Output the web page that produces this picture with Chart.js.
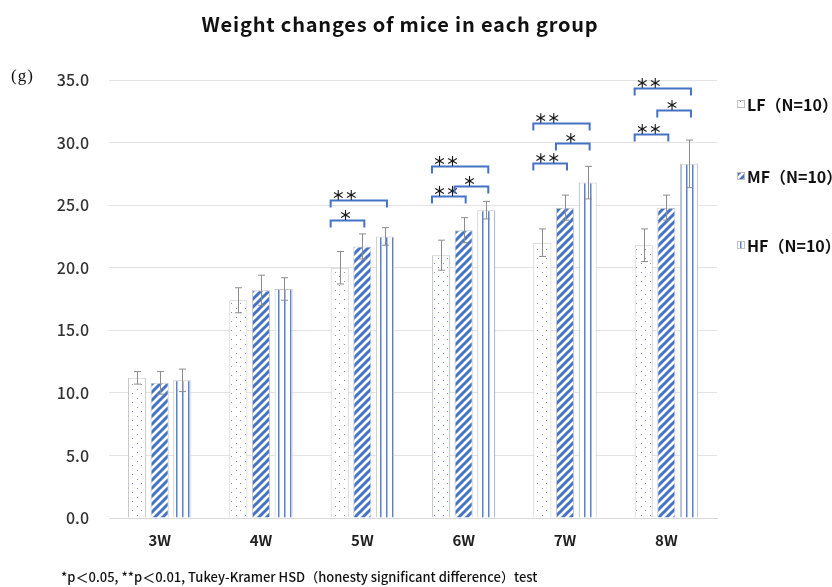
<!DOCTYPE html>
<html>
<head>
<meta charset="utf-8">
<script src="https://cdn.jsdelivr.net/npm/chart.js@4.4.1/dist/chart.umd.min.js"></script>
<style>
  body { margin: 0; background: #fff; }
  #wrap { position: relative; width: 832px; height: 587px; font-family: 'Noto Sans CJK JP', 'Noto Sans', sans-serif; }
  #title { position: absolute; left: 0; top: 12px; width: 800px; text-align: center; font-size: 20px; line-height: 24px; letter-spacing: 0.8px; font-weight: bold; color: #111; }
  #unit { position: absolute; left: 11px; top: 66px; font-family: 'Liberation Serif', 'DejaVu Serif', serif; font-size: 17px; line-height: 20px; letter-spacing: 1px; color: #111; }
  #note { position: absolute; left: 61px; top: 569px; font-size: 13px; line-height: 16px; font-weight: 500; color: #111; }
</style>
</head>
<body>
<div id="wrap">
  <canvas id="chart"></canvas>
  <div id="title">Weight changes of mice in each group</div>
  <div id="unit">(g)</div>
  <div id="note">*p＜0.05, **p＜0.01, Tukey-Kramer HSD（honesty significant difference）test</div>
</div>
<script>
// data
const categories = ['3W', '4W', '5W', '6W', '7W', '8W'];
const seriesNames = ['LF（N=10）', 'MF（N=10）', 'HF（N=10）'];
const lfMean = [11.2, 17.4, 20.0, 21.0, 22.0, 21.8];
const mfMean = [10.8, 18.2, 21.7, 23.0, 24.8, 24.8];
const hfMean = [11.0, 18.3, 22.5, 24.6, 26.8, 28.3];
const lfErr = [0.5, 1.0, 1.3, 1.2, 1.1, 1.3];
const mfErr = [0.9, 1.2, 1.0, 1.0, 1.0, 1.0];
const hfErr = [0.9, 0.9, 0.7, 0.7, 1.3, 1.9];
const yTicks = [0, 5, 10, 15, 20, 25, 30, 35];

// significance brackets: [category, from series, to series, level (g), mark]
const brackets = [
    [2, 0, 1, 23.8, '*'],
    [2, 0, 2, 25.4, '**'],
    [3, 0, 1, 25.7, '**'],
    [3, 1, 2, 26.5, '*'],
    [3, 0, 2, 28.1, '**'],
    [4, 0, 1, 28.35, '**'],
    [4, 1, 2, 29.95, '*'],
    [4, 0, 2, 31.55, '**'],
    [5, 0, 1, 30.7, '**'],
    [5, 1, 2, 32.6, '*'],
    [5, 0, 2, 34.35, '**']
];

const blue = '#4472C4';

function makePattern(kind) {
    let c = document.createElement('canvas');
    let g = c.getContext('2d');
    if (kind === 'dots') {
        c.width = 9; c.height = 9;
        g.fillStyle = '#fff';
        g.fillRect(0, 0, 9, 9);
        g.fillStyle = '#7d96c8';
        g.fillRect(2, 2, 1, 1);
        g.fillRect(6, 6, 1, 1);
    } else if (kind === 'diag') {
        c.width = 8; c.height = 8;
        g.fillStyle = '#fff';
        g.fillRect(0, 0, 8, 8);
        g.strokeStyle = blue;
        g.lineWidth = 3;
        g.beginPath();
        g.moveTo(-2, 10); g.lineTo(10, -2);
        g.moveTo(-6, 6); g.lineTo(6, -6);
        g.moveTo(2, 14); g.lineTo(14, 2);
        g.stroke();
    } else {
        c.width = 6; c.height = 6;
        g.fillStyle = '#fff';
        g.fillRect(0, 0, 6, 6);
        g.fillStyle = '#5b82cc';
        g.fillRect(2, 0, 1.5, 6);
    }
    return g.createPattern(c, 'repeat');
}

const fills = [makePattern('dots'), makePattern('diag'), makePattern('vert')];
const errs = [lfErr, mfErr, hfErr];

const errorBars = {
    id: 'errorBars',
    afterDatasetsDraw(chart) {
        const ctx = chart.ctx;
        const y = chart.scales.y;
        ctx.save();
        ctx.strokeStyle = '#8c8c8c';
        ctx.lineWidth = 1;
        chart.data.datasets.forEach((ds, i) => {
            chart.getDatasetMeta(i).data.forEach((bar, j) => {
                let v = ds.data[j], e = errs[i][j];
                let x = Math.round(bar.x) + 0.5;
                let top = y.getPixelForValue(v + e), bot = y.getPixelForValue(v - e);
                ctx.beginPath();
                ctx.moveTo(x, top); ctx.lineTo(x, bot);
                ctx.moveTo(x - 3.5, top); ctx.lineTo(x + 3.5, top);
                ctx.moveTo(x - 3.5, bot); ctx.lineTo(x + 3.5, bot);
                ctx.stroke();
            });
        });
        ctx.restore();
    }
};

const sigMarks = {
    id: 'sigMarks',
    afterDatasetsDraw(chart) {
        const ctx = chart.ctx;
        const y = chart.scales.y;
        ctx.save();
        brackets.forEach(b => {
            let a = chart.getDatasetMeta(b[1]).data[b[0]];
            let z = chart.getDatasetMeta(b[2]).data[b[0]];
            let x1 = a.x - a.width / 2, x2 = z.x + 2;
            let yy = Math.round(y.getPixelForValue(b[3])) + 0.5;
            ctx.strokeStyle = blue;
            ctx.lineWidth = 2;
            ctx.beginPath();
            ctx.moveTo(x1, yy + 7); ctx.lineTo(x1, yy); ctx.lineTo(x2, yy); ctx.lineTo(x2, yy + 7);
            ctx.stroke();
            ctx.fillStyle = '#1a1a1a';
            ctx.font = 'bold 13px "Noto Sans CJK JP"';
            ctx.textBaseline = 'alphabetic';
            if (b[4] === '**') {
                ctx.textAlign = 'left';
                ctx.fillText('＊＊', x1 + 1, yy - 1);
            } else {
                ctx.textAlign = 'center';
                ctx.fillText('＊', (x1 + x2) / 2 - 2, yy - 1);
            }
        });
        ctx.restore();
    }
};

const sideLegend = {
    id: 'sideLegend',
    afterDraw(chart) {
        const ctx = chart.ctx;
        const area = chart.chartArea;
        const rows = [24, 96, 165];
        ctx.save();
        ctx.font = 'bold 16px "Noto Sans CJK JP"';
        ctx.textBaseline = 'middle';
        ctx.textAlign = 'left';
        seriesNames.forEach((name, i) => {
            let x = area.right + 20, yc = area.top + rows[i];
            ctx.fillStyle = fills[i];
            ctx.fillRect(x, yc - 4, 8, 8);
            ctx.strokeStyle = '#bfbfbf';
            ctx.lineWidth = 1;
            ctx.strokeRect(x + 0.5, yc - 3.5, 7, 7);
            ctx.fillStyle = '#111';
            ctx.fillText(name, x + 10, yc + 1);
        });
        ctx.restore();
    }
};

const ctx = document.getElementById('chart').getContext('2d');
const chart = new Chart(ctx, {
    type: 'bar',
    data: {
        labels: categories,
        datasets: [lfMean, mfMean, hfMean].map((d, i) => ({
            label: seriesNames[i],
            data: d,
            backgroundColor: fills[i],
            borderColor: '#c8c8c8',
            borderWidth: 1,
            barPercentage: 0.8,
            categoryPercentage: 0.67
        }))
    },
    options: {
        responsive: true,
        maintainAspectRatio: false,
        animation: false,
        layout: { padding: { top: 80, right: 115, bottom: 0, left: 0 } },
        plugins: {
            legend: { display: false },
            title: { display: false },
            tooltip: { enabled: false }
        },
        scales: {
            x: {
                grid: { display: false },
                border: { color: '#d9d9d9' },
                ticks: {
                    padding: 5,
                    color: '#222',
                    font: { family: 'Noto Sans CJK JP', size: 15, weight: 'bold' }
                },
                afterFit(scale) { scale.height = 69; }
            },
            y: {
                min: 0,
                max: 35,
                afterBuildTicks(scale) { scale.ticks = yTicks.map(v => ({ value: v })); },
                grid: { color: '#e3e3e3', drawTicks: false },
                border: { display: false },
                ticks: {
                    padding: 20,
                    color: '#333',
                    font: { family: 'Noto Sans CJK JP', size: 16, weight: '500' },
                    callback: v => v.toFixed(1)
                },
                afterFit(scale) { scale.width = 109; }
            }
        }
    },
    plugins: [errorBars, sigMarks, sideLegend]
});
</script>
</body>
</html>
